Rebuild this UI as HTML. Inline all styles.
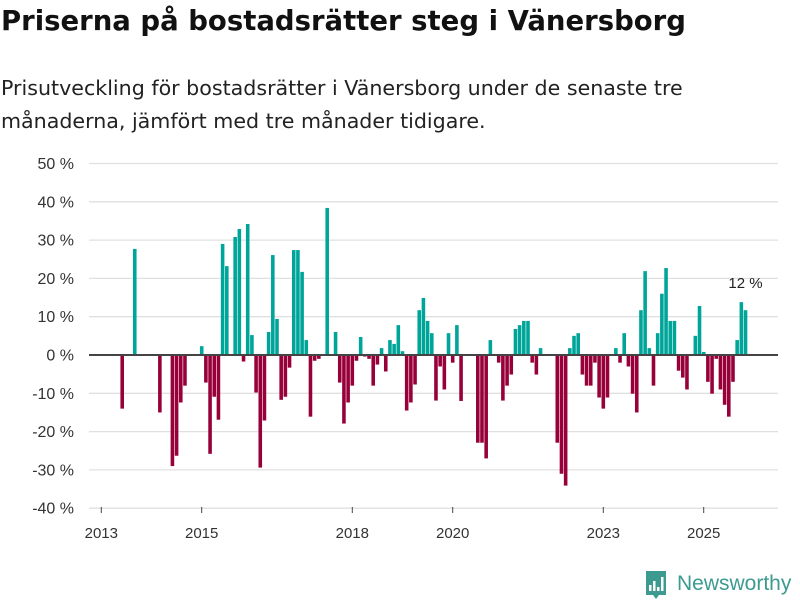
<!DOCTYPE html>
<html><head><meta charset="utf-8"><style>
body{margin:0;background:#fff;font-family:"Liberation Sans","DejaVu Sans",sans-serif;}
#wrap{position:relative;width:800px;height:600px;overflow:hidden;}
h1{position:absolute;left:1px;top:5px;margin:0;font-family:"DejaVu Sans",sans-serif;font-size:27.5px;font-weight:bold;color:#111;}
.sub{position:absolute;left:1px;top:72px;margin:0;font-family:"DejaVu Sans",sans-serif;font-size:20.6px;line-height:33px;color:#222;}
svg{position:absolute;left:0;top:0;}
</style></head><body>
<div id="wrap">
<h1>Priserna på bostadsrätter steg i Vänersborg</h1>
<p class="sub">Prisutveckling för bostadsrätter i Vänersborg under de senaste tre<br>månaderna, jämfört med tre månader tidigare.</p>
<svg id="chart" width="800" height="600"></svg>
</div>
<script>
const monthIndex=[5,8,14,17,18,19,20,24,25,26,27,28,29,30,32,33,34,35,36,37,38,39,40,41,42,43,44,45,46,47,48,49,50,51,52,54,56,57,58,59,60,61,62,63,64,65,66,67,68,69,70,71,72,73,74,75,76,77,78,79,80,81,82,83,84,85,86,90,91,92,93,95,96,97,98,99,100,101,102,103,104,105,109,110,111,112,113,114,115,116,117,118,119,120,121,123,124,125,126,127,128,129,130,131,132,133,134,135,136,137,138,139,140,142,143,144,145,146,147,148,149,150,151,152,153,154];
const changeValues=[-14,27.7,-15,-29,-26.3,-12.4,-8,2.3,-7.2,-25.8,-10.9,-16.9,29,23.2,30.8,32.9,-1.7,34.2,5.2,-9.8,-29.4,-17.1,6,26.1,9.4,-11.7,-10.9,-3.3,27.4,27.4,21.7,3.9,-16.1,-1.5,-1,38.4,6,-7.2,-17.9,-12.4,-8,-1.5,4.7,-0.4,-1,-8,-2.5,1.8,-4.3,3.9,2.9,7.8,1,-14.5,-12.4,-7.7,11.7,14.9,8.9,5.7,-11.9,-3,-9,5.7,-2,7.8,-12,-22.9,-22.9,-27,3.9,-2,-11.9,-8,-5.1,6.8,7.8,8.9,8.9,-2,-5.1,1.8,-22.9,-31,-34.1,1.8,5,5.7,-5.1,-8,-8,-2,-11.1,-14,-11.1,1.8,-2,5.7,-3,-10.1,-15,11.7,21.9,1.8,-8,5.7,16,22.7,8.9,8.9,-4.1,-5.9,-9,5,12.8,0.8,-7,-10.1,-1,-9,-13,-16.1,-7,3.9,13.8,11.7];
const yTicks=[50,40,30,20,10,0,-10,-20,-30,-40];
const xTickYears=[2013,2015,2018,2020,2023,2025];
const lastLabel="12 %";

const svg=document.getElementById('chart');
const NS='http://www.w3.org/2000/svg';
const y0=355,pxPer=3.83;
function yScale(v){return y0-v*pxPer;}
const monthStep=50.2/12;
function xScale(m){return 101.3+m*monthStep;}
function mk(tag,attrs){const e=document.createElementNS(NS,tag);for(const k in attrs)e.setAttribute(k,attrs[k]);svg.appendChild(e);return e;}

yTicks.forEach(t=>{
  const g=mk('line',{x1:89,x2:778,y1:yScale(t),y2:yScale(t),stroke:'#e0e0e0','stroke-width':1.3});
  
  
  const tx=mk('text',{x:74,y:yScale(t)+5.5,'text-anchor':'end','font-size':16,fill:'#333'});
  tx.textContent=t+' %';
  
  
});
xTickYears.forEach(yr=>{
  const x=xScale((yr-2013)*12);
  const l=mk('line',{x1:x,x2:x,y1:507,y2:513,stroke:'#444','stroke-width':1});
  
  
  const tx=mk('text',{x:x,y:538,'text-anchor':'middle','font-size':15,fill:'#333'});
  tx.textContent=yr;
  
  
});
monthIndex.forEach((m,i)=>{
  const v=changeValues[i];
  const x=xScale(m)-monthStep/2+0.3;
  const top=Math.min(yScale(v),y0),h=Math.abs(yScale(v)-y0);
  const r=mk('rect',{x:x,y:top,width:monthStep-0.6,height:h,fill:v>=0?'#00a59a':'#98003a'});
  
  
});
const zl=mk('line',{x1:89,x2:778,y1:y0,y2:y0,stroke:'#444','stroke-width':2});


const lm=monthIndex[monthIndex.length-1],lv=changeValues[changeValues.length-1];
const lab=mk('text',{x:xScale(lm),y:yScale(lv)-22,'text-anchor':'middle','font-size':15,fill:'#222'});
lab.textContent=lastLabel;


</script>
<svg width="800" height="600" style="pointer-events:none">
<path d="M646 571 h20 v24 h-7 l-3 4 l-3 -4 h-7 z" fill="#3d9a90"/>
<rect x="649" y="585" width="2.5" height="6" fill="#fff"/><rect x="653" y="581" width="2.5" height="10" fill="#fff"/><rect x="657" y="587" width="2.5" height="4" fill="#fff"/><rect x="661" y="577" width="2.5" height="14" fill="#fff"/>
<text x="677" y="590" font-size="21" fill="#3d9a90" font-family="Liberation Sans, sans-serif">Newsworthy</text>
</svg>
</body></html>
